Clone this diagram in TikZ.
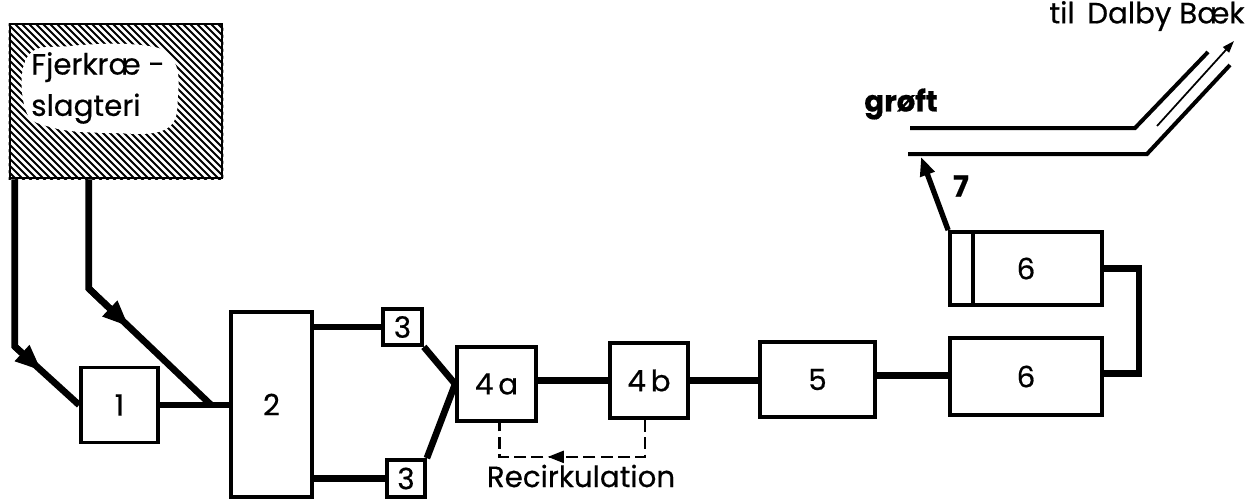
\documentclass[tikz,border=0pt]{standalone}
\usepackage{fontspec}
\setmainfont{Poppins}
\newfontfamily\lblfont{Poppins}[FakeBold=0.5]
\usetikzlibrary{calc,arrows.meta,decorations.markings}
\begin{document}
\begin{tikzpicture}[x=0.75pt,y=-0.75pt,
  box/.style={draw,line width=2.8pt,inner sep=0pt,font=\lblfont\fontsize{22}{26}\selectfont},
  pipe/.style={line width=5pt,line join=miter},
  pipearrow/.style={line width=5pt,-{Triangle[length=20pt,width=15pt]}},
  dashline/.style={line width=1.6pt,dash pattern=on 9pt off 4pt},
  ditch/.style={line width=3pt},
  lbl/.style={font=\lblfont\fontsize{22}{26}\selectfont},
  recarrow/.style={postaction={decorate},decoration={markings,
     mark=at position #1 with {\arrow{Triangle[length=12pt,width=9pt]}}}}
]
\useasboundingbox (0,0) rectangle (1259,500);
% plant
\node[draw,line width=2pt,minimum width=159pt,minimum height=115.5pt,inner sep=0pt] (plant) at (116,101) {};
\begin{scope}
  \clip (plant.south west) rectangle (plant.north east);
  \foreach \i in {-160,-153,...,222} \draw[line width=1.5pt] (\i,24) -- ++(160,160);
\end{scope}
\fill[white] plot[smooth cycle,tension=0.7] coordinates {(28,56) (70,46) (140,45) (172,58) (178,95) (166,129) (110,133) (50,127) (25,108)};
\node[lbl,align=left,anchor=west,inner sep=0pt,font=\lblfont\fontsize{22}{31}\selectfont] (plabel) at (31,88) {Fjerkræ -\\slagteri};
% boxes
\node[box,minimum width=57.75pt,minimum height=56.25pt] (b1) at (119.5,405) {1};
\node[box,minimum width=60.75pt,minimum height=138.75pt] (b2) at (271.5,404.5) {2};
\node[box,minimum width=29.25pt,minimum height=27pt] (b3a) at (402.5,327) {3};
\node[box,minimum width=28.5pt,minimum height=27.75pt] (b3b) at (406,478.5) {3};
\node[box,minimum width=59.25pt,minimum height=55.5pt] (b4a) at (496.5,384) {4\,a};
\node[box,minimum width=58.5pt,minimum height=56.25pt] (b4b) at (649,380.5) {4\,b};
\node[box,minimum width=86.25pt,minimum height=56.25pt] (b5) at (817.5,379.5) {5};
\node[box,minimum width=114pt,minimum height=57.75pt] (b6b) at (1026,376.5) {6};
\node[box,minimum width=114pt,minimum height=54.75pt] (b6a) at (1026,268.5) {6};
\draw[line width=2.6pt] ($(b6a.north west)+(25,0)$) -- ($(b6a.south west)+(25,0)$);
% inflow pipes
\coordinate (p1) at ($(plant.south west)+(6,0)$);
\coordinate (p2) at ($(plant.south west)+(80,0)$);
\coordinate (j1) at ($(b1.east -| b2.west)+(-18,0)$);
\draw[pipe] (p1) -- ++(0,167) coordinate (k1) -- (b1.west);
\draw[pipearrow] (k1) -- ($(k1)!0.42!(b1.west)$);
\draw[pipe] (p2) -- ++(0,109) coordinate (k2) -- (j1);
\draw[pipearrow] (k2) -- ($(k2)!0.33!(j1)$);
% process line
\draw[pipe] (b1.east) -- (b1.east -| b2.west);
\draw[pipe] (b3a.west -| b2.east) -- (b3a.west);
\draw[pipe] (b3b.west -| b2.east) -- (b3b.west);
\draw[pipe] (b3a.south east) -- (b4a.west);
\draw[pipe] (b3b.north east) -- (b4a.west);
\draw[pipe] (b4b.west -| b4a.east) -- (b4b.west);
\draw[pipe] (b4b.east) -- (b4b.east -| b5.west);
\draw[pipe] ($(b5.east)+(0,-4)$) -- ($(b5.east -| b6b.west)+(0,-4)$);
\draw[pipe] ($(b6b.east)+(0,-3)$) -- ++(35,0) |- (b6a.east);
% recirculation
\draw[dashline,recarrow=0.62] ($(b4b.south)+(-4,0)$) -- ++(0,37) -| ($(b4a.south)+(3,0)$);
\node[lbl,inner sep=0pt] (rec) at (581,476) {Recirkulation};
% outlet
\coordinate (d1) at (910,128);
\coordinate (d2) at (1135,128);
\coordinate (d3) at (1208,52);
\coordinate (e1) at (908,154);
\coordinate (e2) at (1147,154);
\coordinate (e3) at (1230,65);
\coordinate (f1) at (1157,126);
\coordinate (f2) at (1234,41);
\coordinate (a7) at (921,157);
\draw[ditch] (d1) -- (d2) -- (d3);
\draw[ditch] (e1) -- (e2) -- (e3);
\draw[line width=1.3pt,-{Triangle[length=9pt,width=6pt]}] (f1) -- (f2);
\draw[line width=4pt,-{Triangle[length=14pt,width=11pt]}] (b6a.north west) -- (a7);
\node[lbl,inner sep=0pt] (n7) at (961,186) {\bfseries 7};
\node[lbl,inner sep=0pt] (groft) at (901,104) {\bfseries grøft};
\node[lbl,inner sep=0pt] (dalby) at (1147,16) {til\, Dalby Bæk};
\end{tikzpicture}
\end{document}
